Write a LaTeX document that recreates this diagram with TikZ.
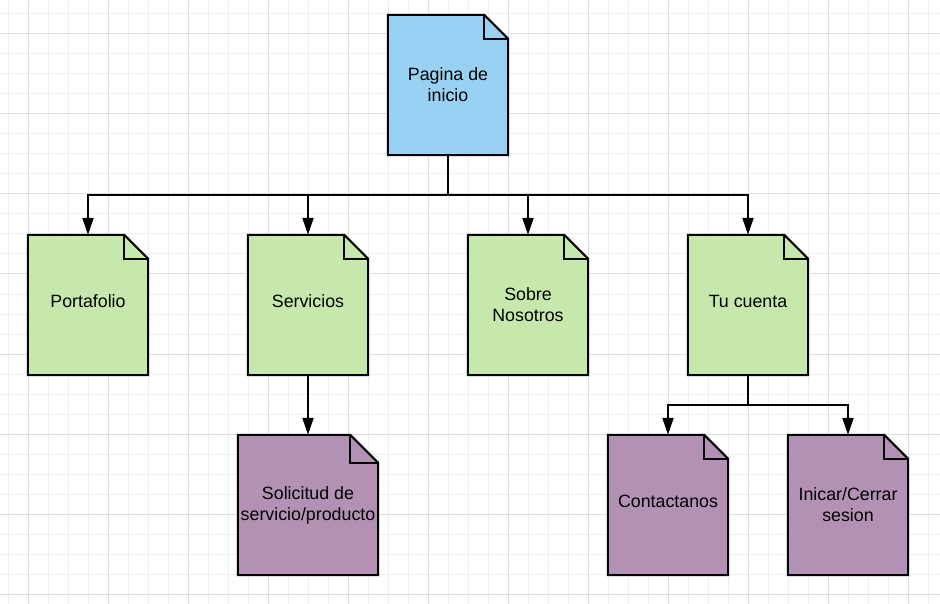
\documentclass[tikz,border=0pt]{standalone}
\usepackage{fontspec}
\setmainfont{Liberation Sans}
\usetikzlibrary{arrows.meta}

\pgfdeclarelayer{gridlayer}
\pgfdeclarelayer{shapes}
\pgfsetlayers{gridlayer,shapes,main}

\definecolor{homeblue}{RGB}{153,209,243}
\definecolor{pagegreen}{RGB}{199,232,172}
\definecolor{subpurple}{RGB}{179,145,181}
\definecolor{gridminor}{RGB}{238,238,238}
\definecolor{gridmajor}{RGB}{222,222,222}

\tikzset{
  page/.style={minimum width=120pt, minimum height=140pt, inner sep=0pt,
    align=center, font=\fontsize{17.8}{21}\selectfont, text=black},
  wide page/.style={page, minimum width=140pt},
  one line/.style={text depth=7pt},
  outline/.style={line width=2pt, draw=black},
  trunk/.style={line width=2pt},
  link/.style={line width=2pt, -{Triangle[length=17pt,width=11pt]}},
  minorline/.style={draw=gridminor, line width=1pt},
  majorline/.style={draw=gridmajor, line width=1pt},
}

% document outline with a folded top-right corner, drawn around a node
\newcommand\foldedpage[3]{% node, fill colour, fold size
  \begin{pgfonlayer}{shapes}
    \path[outline, fill=#2] (#1.north west) -- ([xshift=-#3pt]#1.north east)
      -- ([yshift=-#3pt]#1.north east) -- (#1.south east) -- (#1.south west) -- cycle;
    \draw[line width=2pt] ([xshift=-#3pt]#1.north east) |- ([yshift=-#3pt]#1.north east);
  \end{pgfonlayer}}

\begin{document}
\begin{tikzpicture}[x=1pt, y=-1pt]
  \useasboundingbox (0,0) rectangle (940,604);

  % background grid
  \begin{pgfonlayer}{gridlayer}
    \fill[white] (0,0) rectangle (940,604);
    \foreach \x in {8,28,...,928} \draw[minorline] (\x,0) -- (\x,604);
    \foreach \y in {14,34,...,594} \draw[minorline] (0,\y) -- (940,\y);
    \foreach \x in {28,108,...,908} \draw[majorline] (\x,0) -- (\x,604);
    \foreach \y in {34,114,...,594} \draw[majorline] (0,\y) -- (940,\y);
  \end{pgfonlayer}

  % pages
  \node[page] (home)    at (448,85)  {Pagina de\\inicio};
  \node[page, one line] (port) at (88,305)  {Portafolio};
  \node[page, one line] (serv) at (308,305) {Servicios};
  \node[page] (about)   at (528,305) {Sobre\\Nosotros};
  \node[page, one line] (acct) at (748,305) {Tu cuenta};
  \node[wide page] (req) at (308,505) {Solicitud de\\servicio/producto};
  \node[page, one line] (contact) at (668,505) {Contactanos};
  \node[page] (login)   at (848,505) {Inicar/Cerrar\\sesion};

  \foldedpage{home}{homeblue}{24}
  \foldedpage{port}{pagegreen}{24}
  \foldedpage{serv}{pagegreen}{24}
  \foldedpage{about}{pagegreen}{24}
  \foldedpage{acct}{pagegreen}{24}
  \foldedpage{req}{subpurple}{28}
  \foldedpage{contact}{subpurple}{24}
  \foldedpage{login}{subpurple}{24}

  % connectors
  \draw[trunk] (home.south) -- ++(0,40) coordinate (hub);
  \foreach \child in {port,serv,about,acct}
    \draw[link] (hub) -| (\child.north);
  \draw[link] (serv.south) -- (req.north);
  \draw[trunk] (acct.south) -- ++(0,30) coordinate (accthub);
  \foreach \child in {contact,login}
    \draw[link] (accthub) -| (\child.north);
\end{tikzpicture}
\end{document}
